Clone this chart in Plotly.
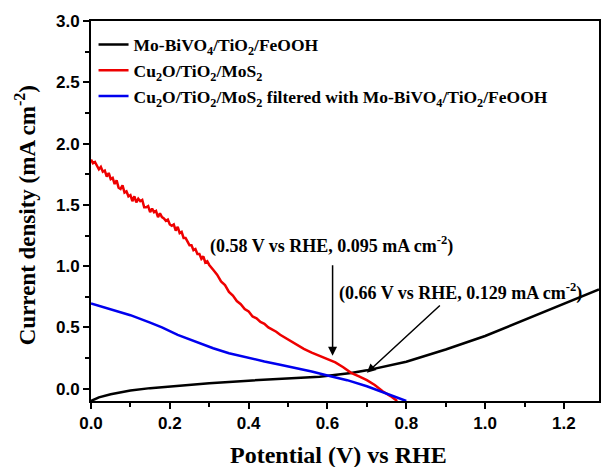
import plotly.graph_objects as go

# ---- data ----
black_x = [0.00, 0.02, 0.05, 0.10, 0.15, 0.20, 0.30, 0.40, 0.50, 0.58, 0.66, 0.70, 0.80, 0.90, 1.00, 1.10, 1.20, 1.289]
black_y = [-0.10, -0.07, -0.045, -0.015, 0.005, 0.02, 0.045, 0.066, 0.083, 0.097, 0.129, 0.15, 0.22, 0.32, 0.43, 0.56, 0.69, 0.81]

red_x = [0.000, 0.005, 0.010, 0.015, 0.020, 0.025, 0.030, 0.035, 0.040, 0.045, 0.050, 0.055, 0.060, 0.065,
         0.070, 0.075, 0.080, 0.085, 0.090, 0.095, 0.100, 0.105, 0.110, 0.115, 0.120, 0.125, 0.130, 0.135,
         0.140, 0.145, 0.150, 0.155, 0.160, 0.165, 0.170, 0.175, 0.180, 0.185, 0.190, 0.195, 0.200, 0.205,
         0.210, 0.215, 0.220, 0.225, 0.230, 0.235, 0.240, 0.245, 0.250, 0.255, 0.260, 0.265, 0.270, 0.275,
         0.280, 0.285, 0.290, 0.295, 0.300, 0.31, 0.32, 0.33, 0.34, 0.35, 0.36, 0.37, 0.38, 0.39, 0.40,
         0.41, 0.42, 0.43, 0.44, 0.45, 0.46, 0.47, 0.48, 0.50, 0.52, 0.54, 0.56, 0.58, 0.60, 0.62, 0.64,
         0.66, 0.68, 0.70, 0.72, 0.74, 0.76, 0.777]
red_y = [1.87, 1.84, 1.85, 1.82, 1.79, 1.81, 1.77, 1.78, 1.73, 1.76, 1.71, 1.72, 1.67, 1.70,
         1.64, 1.63, 1.66, 1.60, 1.61, 1.57, 1.58, 1.53, 1.57, 1.52, 1.55, 1.53, 1.54, 1.48,
         1.48, 1.49, 1.44, 1.47, 1.44, 1.45, 1.40, 1.43, 1.40, 1.39, 1.37, 1.38, 1.34, 1.33,
         1.34, 1.29, 1.32, 1.27, 1.28, 1.23, 1.23, 1.20, 1.17, 1.17, 1.13, 1.14, 1.10, 1.10,
         1.06, 1.08, 1.03, 1.04, 1.01, 0.97, 0.93, 0.875, 0.845, 0.79, 0.76, 0.715, 0.69, 0.65, 0.63,
         0.59, 0.575, 0.545, 0.53, 0.50, 0.485, 0.465, 0.44, 0.40, 0.36, 0.325, 0.295, 0.268, 0.245, 0.215, 0.175,
         0.13, 0.10, 0.07, 0.03, -0.02, -0.06, -0.10]

blue_x = [0.00, 0.05, 0.10, 0.15, 0.18, 0.22, 0.27, 0.31, 0.35, 0.40, 0.44, 0.48, 0.52, 0.56, 0.60, 0.65, 0.70, 0.75, 0.80]
blue_y = [0.695, 0.65, 0.60, 0.54, 0.50, 0.44, 0.38, 0.33, 0.29, 0.25, 0.222, 0.195, 0.17, 0.14, 0.108, 0.07, 0.02, -0.04, -0.10]

names = ["Mo-BiVO<sub>4</sub>/TiO<sub>2</sub>/FeOOH",
         "Cu<sub>2</sub>O/TiO<sub>2</sub>/MoS<sub>2</sub>",
         "Cu<sub>2</sub>O/TiO<sub>2</sub>/MoS<sub>2</sub> filtered with Mo-BiVO<sub>4</sub>/TiO<sub>2</sub>/FeOOH"]
colors = ["#000000", "#ee0000", "#0000ee"]

serif = "Liberation Serif"
sans = "Liberation Sans"

fig = go.Figure()
for xs, ys, nm, c in [(black_x, black_y, names[0], colors[0]),
                      (red_x, red_y, names[1], colors[1]),
                      (blue_x, blue_y, names[2], colors[2])]:
    fig.add_trace(go.Scatter(x=xs, y=ys, mode="lines", name=nm,
                             line=dict(color=c, width=2.5)))

axis_common = dict(showgrid=False, zeroline=False, showline=True, linecolor="black",
                   linewidth=2, ticks="outside", ticklen=6, tickwidth=2, tickcolor="black",
                   mirror=True,
                   tickfont=dict(family=sans, size=17, color="black", weight="bold"))

fig.update_xaxes(range=[0, 1.289], dtick=0.2, tick0=0, tickformat=".1f",
                 minor=dict(dtick=0.1, ticks="outside", ticklen=4, tickwidth=2, tickcolor="black"),
                 **axis_common)
fig.update_yaxes(range=[-0.1, 3.0], dtick=0.5, tick0=0, tickformat=".1f",
                 minor=dict(dtick=0.25, ticks="outside", ticklen=4, tickwidth=2, tickcolor="black"),
                 **axis_common)

afont = dict(family=serif, size=18, color="black", weight="bold")
annos = [
    dict(x=0.613, y=0.27, ax=0.613, ay=1.02, axref="x", ayref="y", text="",
         showarrow=True, arrowhead=2, arrowsize=1.2, arrowwidth=1.5, arrowcolor="black"),
    dict(x=0.70, y=0.13, ax=0.889, ay=0.69, axref="x", ayref="y", text="",
         showarrow=True, arrowhead=2, arrowsize=1.2, arrowwidth=1.5, arrowcolor="black"),
    dict(x=0.61, y=1.17, text="(0.58 V vs RHE, 0.095 mA cm<sup>-2</sup>)", showarrow=False, font=afont),
    dict(x=0.937, y=0.79, text="(0.66 V vs RHE, 0.129 mA cm<sup>-2</sup>)", showarrow=False, font=afont),
    dict(x=339, y=455, xref="paper", yref="paper", text="Potential (V) vs RHE", showarrow=False,
         font=dict(family=serif, size=24, color="black", weight="bold")),
    dict(x=25, y=215, xref="paper", yref="paper", text="Current density (mA cm<sup>-2</sup>)",
         showarrow=False, textangle=-90,
         font=dict(family=serif, size=23, color="black", weight="bold")),
]
# convert pixel placements for the axis titles to paper coords
W, H = 603, 467
ml, mr, mt, mb = 91, 2, 21, 66
pw, ph = W - ml - mr, H - mt - mb
for a in annos[4:]:
    px, py = a["x"], a["y"]
    a["x"] = (px - ml) / pw
    a["y"] = (H - mb - py) / ph
    a["xanchor"] = "center"
    a["yanchor"] = "middle"

fig.update_layout(
    width=W, height=H,
    margin=dict(l=ml, r=mr, t=mt, b=mb),
    paper_bgcolor="white", plot_bgcolor="white",
    annotations=annos,
    legend=dict(x=0.005, y=0.985, xanchor="left", yanchor="top",
                bgcolor="rgba(0,0,0,0)", tracegroupgap=0,
                font=dict(family=serif, size=17.5, color="black", weight="bold")),
)

fig.write_html("out.html", config={"displayModeBar": False},
               post_script="document.body.style.margin='0px';")
